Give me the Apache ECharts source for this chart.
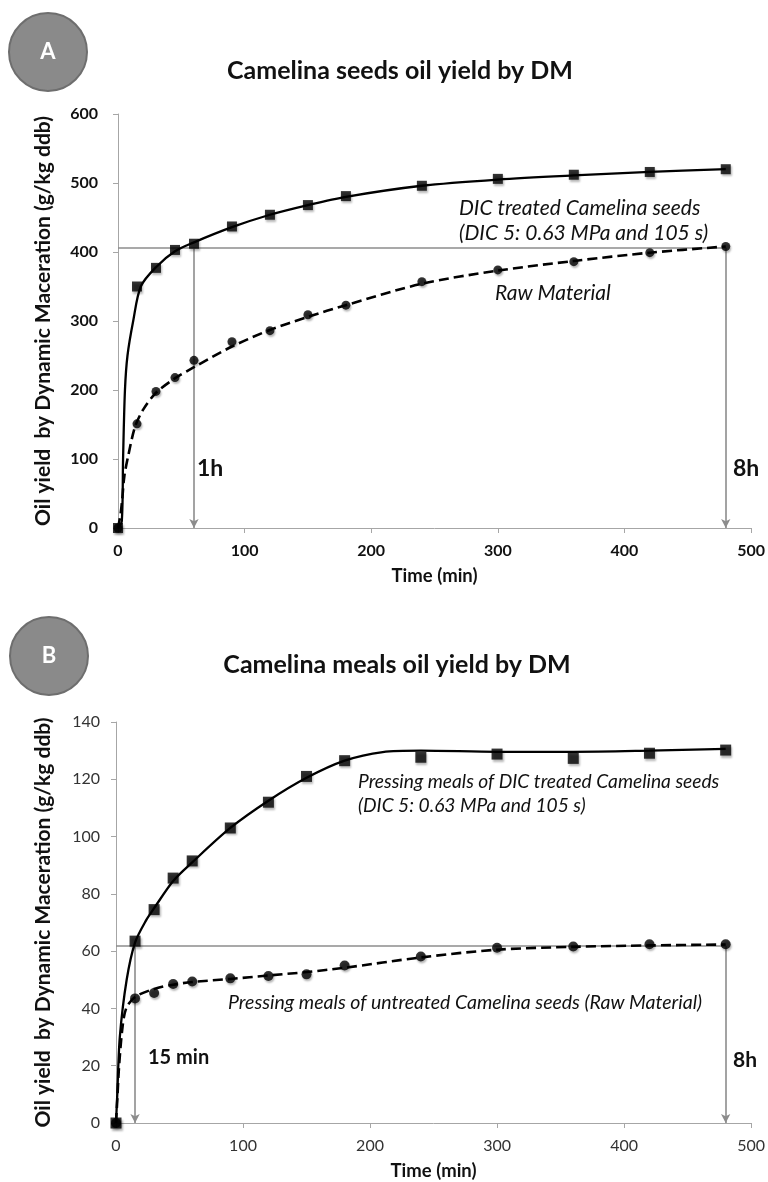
<!DOCTYPE html>
<html>
<head>
<meta charset="utf-8">
<script src="https://cdn.jsdelivr.net/npm/echarts@6/dist/echarts.min.js"></script>
<style>
html,body{margin:0;padding:0;background:#fff;}
#c{width:768px;height:1182px;}
</style>
</head>
<body>
<div id="c"></div>
<script>
// ---------- Panel A: Camelina seeds ----------
var timesA = [0, 15, 30, 45, 60, 90, 120, 150, 180, 240, 300, 360, 420, 480];
var dicSeeds = [0, 350, 377, 403, 412, 437, 454, 468, 481, 496, 506, 512, 516, 520];
var rawSeeds = [0, 151, 198, 218, 243, 270, 286, 309, 323, 357, 374, 386, 399, 408];
// fitted curves [time, yield]
var dicSeedsFit = [[0,0],[3,10],[4,100],[5.5,200],[7.5,250],[12,300],[18,350],[30,378],[45,401],[60,414],[90,436],[120,454],[150,468],[180,480],[240,496],[300,505],[360,511],[420,516],[480,520]];
var rawSeedsFit = [[0,0],[2,20],[3.3,41],[5,75],[8,104],[13.5,147],[20,172],[30,196],[45,217],[60,233],[90,263],[120,287],[150,306],[180,323],[240,354],[300,373],[360,387],[420,399],[480,408]];
var refLevelA = 406;
var refTimesA = [60, 480];
var refLabelsA = ['1h', '8h'];

// ---------- Panel B: Camelina meals ----------
var timesB = [0, 15, 30, 45, 60, 90, 120, 150, 180, 240, 300, 360, 420, 480];
var dicMeals = [0, 63.5, 74.5, 85.5, 91.5, 103, 112, 121, 126.5, 127.7, 128.8, 127.3, 129.1, 130.2];
var rawMeals = [0, 43.5, 45.4, 48.5, 49.4, 50.5, 51.3, 51.9, 55, 58.1, 61.2, 61.6, 62.4, 62.4];
var dicMealsFit = [[0,0],[1,10],[3,30],[8.4,50],[15,63],[24,71],[30,75],[45,84.5],[60,91],[90,103],[120,112.5],[150,120.5],[180,126.5],[210,129.5],[240,130],[300,129.6],[360,129.6],[420,130],[480,130.6]];
var rawMealsFit = [[0,0],[1,8],[2.3,19],[5,33],[8,40],[15,44],[30,46.8],[45,48.3],[60,49.2],[90,50.3],[120,51.5],[150,52.7],[180,54.2],[240,57.8],[300,60.5],[360,61.5],[420,62],[480,62.3]];
var refLevelB = 61.8;
var refTimesB = [15, 480];
var refLabelsB = ['15 min', '8h'];

var FONT = 'Lato';
var GRAY = '#8c8c8c';

function pairs(t, v) { return t.map(function (x, i) { return [x, v[i]]; }); }

function refLines(level, times) {
  var d = [[{coord: [0, level], symbol: 'none'}, {coord: [times[times.length - 1], level], symbol: 'none'}]];
  times.forEach(function (t) {
    d.push([{coord: [t, level], symbol: 'none'}, {coord: [t, 0], symbol: 'arrow'}]);
  });
  return d;
}

var markerShadow = {shadowColor: 'rgba(0,0,0,0.35)', shadowBlur: 2, shadowOffsetX: 1, shadowOffsetY: 2};

function xAxisCfg(gridIndex, bold) {
  return {
    type: 'value', gridIndex: gridIndex, min: 0, max: 500, interval: 100,
    name: 'Time (min)', nameLocation: 'middle', nameGap: 39,
    nameTextStyle: {fontFamily: FONT, fontWeight: 'bold', fontSize: 18.5, color: '#111'},
    axisLine: {onZero: false, lineStyle: {color: '#a6a6a6', width: 1}},
    axisTick: {show: true, length: 5, lineStyle: {color: '#a6a6a6'}},
    axisLabel: {fontFamily: FONT, fontSize: 16, fontWeight: bold ? 'bold' : 'normal', color: bold ? '#111' : '#333', margin: 15},
    splitLine: {show: false}
  };
}
function yAxisCfg(gridIndex, max, interval, bold, gap, margin) {
  return {
    type: 'value', gridIndex: gridIndex, min: 0, max: max, interval: interval,
    name: 'Oil yield  by Dynamic Maceration (g/kg ddb)', nameLocation: 'middle', nameGap: gap,
    nameTextStyle: {fontFamily: FONT, fontWeight: 'bold', fontSize: 21, color: '#111'},
    axisLine: {show: true, lineStyle: {color: '#a6a6a6', width: 1}},
    axisTick: {show: true, length: 5, lineStyle: {color: '#a6a6a6'}},
    axisLabel: {fontFamily: FONT, fontSize: 16, fontWeight: bold ? 'bold' : 'normal', color: bold ? '#111' : '#333', margin: margin},
    splitLine: {show: false}
  };
}

var chart = echarts.init(document.getElementById('c'), null, {renderer: 'canvas'});

function txt(x, y, s, size, style, weight) {
  return {type: 'text', x: x, y: y, silent: true,
    style: {text: s, fontFamily: FONT, fontSize: size, fontStyle: style || 'normal', fontWeight: weight || 'normal', fill: '#111', verticalAlign: 'middle', align: 'left'}};
}
function badge(cx, cy, letter) {
  return [
    {type: 'circle', shape: {cx: cx, cy: cy, r: 39}, style: {fill: '#8a8a8a', stroke: '#6e6e6e', lineWidth: 2}, silent: true},
    {type: 'text', x: cx, y: cy, silent: true, style: {text: letter, fontFamily: FONT, fontSize: 22, fontWeight: 'bold', fill: '#fff', align: 'center', verticalAlign: 'middle'}}
  ];
}

var solid = {color: '#000', width: 2.3};
var dashed = {color: '#000', width: 2.6, type: [10, 5]};

var option = {
  animation: false,
  backgroundColor: '#fff',
  title: [
    {text: 'Camelina seeds oil yield by DM', left: 395, top: 53, textAlign: 'center',
      textStyle: {fontFamily: FONT, fontWeight: 'bold', fontSize: 25, color: '#111'}},
    {text: 'Camelina meals oil yield by DM', left: 392, top: 647, textAlign: 'center',
      textStyle: {fontFamily: FONT, fontWeight: 'bold', fontSize: 25, color: '#111'}}
  ],
  grid: [
    {left: 118, right: 15, top: 114, height: 414},
    {left: 116, right: 16, top: 722, height: 401}
  ],
  xAxis: [xAxisCfg(0, true), xAxisCfg(1, false)],
  yAxis: [yAxisCfg(0, 600, 100, true, 64, 20), yAxisCfg(1, 140, 20, false, 62, 16)],
  graphic: [].concat(
    badge(48, 52, 'A'),
    badge(49, 656, 'B'),
    [
      txt(459, 208, 'DIC treated Camelina seeds', 21, 'italic'),
      txt(459, 233, '(DIC 5: 0.63 MPa and 105 s)', 21, 'italic'),
      txt(495, 293, 'Raw Material', 21, 'italic'),
      txt(197, 469, refLabelsA[0], 23, 'normal', 'bold'),
      txt(733, 469, refLabelsA[1], 23, 'normal', 'bold'),
      txt(358, 782, 'Pressing meals of DIC treated Camelina seeds', 19.2, 'italic'),
      txt(358, 806, '(DIC 5: 0.63 MPa and 105 s)', 19.2, 'italic'),
      txt(228, 1003, 'Pressing meals of untreated Camelina seeds (Raw Material)', 19.5, 'italic'),
      txt(148, 1058, refLabelsB[0], 20, 'normal', 'bold'),
      txt(733, 1060, refLabelsB[1], 21, 'normal', 'bold')
    ]
  ),
  series: [
    // Panel A
    {type: 'line', xAxisIndex: 0, yAxisIndex: 0, data: dicSeedsFit, smooth: 0.3, showSymbol: false,
      lineStyle: solid, z: 3, silent: true,
      markLine: {silent: true, symbolSize: [7, 9], label: {show: false}, lineStyle: {color: GRAY, width: 1.6, type: 'solid'}, data: refLines(refLevelA, refTimesA), z: 2}},
    {type: 'line', xAxisIndex: 0, yAxisIndex: 0, data: rawSeedsFit, smooth: 0.3, showSymbol: false,
      lineStyle: dashed, z: 3, silent: true},
    {type: 'scatter', xAxisIndex: 0, yAxisIndex: 0, data: pairs(timesA, dicSeeds), symbol: 'rect', symbolSize: 10,
      itemStyle: Object.assign({color: '#000'}, markerShadow), z: 4},
    {type: 'scatter', xAxisIndex: 0, yAxisIndex: 0, data: pairs(timesA, rawSeeds), symbol: 'circle', symbolSize: 9,
      itemStyle: Object.assign({color: '#000'}, markerShadow), z: 4},
    // Panel B
    {type: 'line', xAxisIndex: 1, yAxisIndex: 1, data: dicMealsFit, smooth: 0.3, showSymbol: false,
      lineStyle: solid, z: 3, silent: true,
      markLine: {silent: true, symbolSize: [7, 9], label: {show: false}, lineStyle: {color: GRAY, width: 1.6, type: 'solid'}, data: refLines(refLevelB, refTimesB), z: 2}},
    {type: 'line', xAxisIndex: 1, yAxisIndex: 1, data: rawMealsFit, smooth: 0.3, showSymbol: false,
      lineStyle: dashed, z: 3, silent: true},
    {type: 'scatter', xAxisIndex: 1, yAxisIndex: 1, data: pairs(timesB, dicMeals), symbol: 'rect', symbolSize: 11,
      itemStyle: Object.assign({color: '#000'}, markerShadow), z: 4},
    {type: 'scatter', xAxisIndex: 1, yAxisIndex: 1, data: pairs(timesB, rawMeals), symbol: 'circle', symbolSize: 10,
      itemStyle: Object.assign({color: '#000'}, markerShadow), z: 4}
  ]
};
chart.setOption(option);
</script>
</body>
</html>
